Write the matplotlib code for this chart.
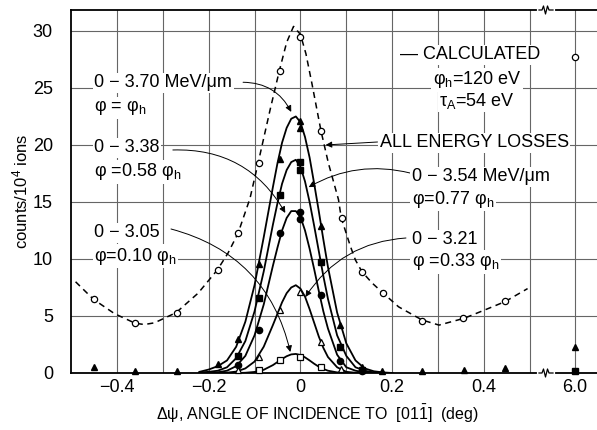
import matplotlib.pyplot as plt
from matplotlib.lines import Line2D

plt.rcParams['font.family'] = ['Liberation Sans', 'DejaVu Sans']
plt.rcParams['mathtext.fontset'] = 'custom'
plt.rcParams['mathtext.rm'] = 'Liberation Sans'
plt.rcParams['mathtext.it'] = 'Liberation Sans:italic'

# ----------------------------
# DATA
# ----------------------------
# all energy losses (open circles)
all_x = [-0.45, -0.36, -0.27, -0.18, -0.135, -0.09, -0.045, 0.0, 0.045, 0.09, 0.135, 0.18, 0.265, 0.355, 0.445]
all_y = [6.5, 4.4, 5.3, 9.0, 12.3, 18.4, 26.5, 29.5, 21.2, 13.6, 8.9, 7.0, 4.6, 4.8, 6.3]
all_far = 27.7  # at 6.0 deg

# dashed hand-drawn curve through all energy losses
dash_x = [-0.49, -0.451, -0.405, -0.36, -0.34, -0.318, -0.271, -0.223, -0.181, -0.158, -0.136,
          -0.11, -0.092, -0.066, -0.046, -0.03, -0.015, 0.0, 0.012, 0.025, 0.045, 0.061, 0.083,
          0.089, 0.109, 0.12, 0.134, 0.156, 0.179, 0.214, 0.265, 0.302, 0.357, 0.40, 0.446, 0.495]
dash_y = [8.0, 6.46, 5.2, 4.36, 4.25, 4.4, 5.29, 7.0, 9.04, 10.5, 12.25,
          15.3, 18.45, 23.1, 26.5, 29.0, 30.4, 29.7, 28.0, 25.4, 21.2, 18.4, 15.2,
          13.6, 11.1, 9.9, 8.89, 7.9, 7.05, 5.8, 4.65, 4.2, 4.8, 5.5, 6.26, 7.4]

# 0-3.70 MeV/um (filled triangles)
tri_x = [-0.45, -0.36, -0.27, -0.18, -0.135, -0.09, -0.045, 0.0, 0.0, 0.045, 0.087, 0.134, 0.178, 0.265, 0.357, 0.446]
tri_y = [0.5, 0.2, 0.2, 0.8, 3.0, 9.6, 18.8, 22.1, 21.5, 12.9, 4.2, 0.55, 0.2, 0.2, 0.3, 0.4]
tri_far = 2.3
# 0-3.54 (filled squares)
sq_x = [-0.135, -0.09, -0.045, 0.0, 0.0, 0.045, 0.087, 0.134]
sq_y = [1.5, 6.55, 15.6, 18.5, 17.8, 9.7, 2.25, 0.25]
sq_far = 0.2
# 0-3.38 (filled circles)
circ_x = [-0.135, -0.09, -0.045, 0.0, 0.0, 0.045, 0.087, 0.134]
circ_y = [0.7, 3.8, 12.3, 14.1, 13.5, 6.8, 1.05, 0.15]
# 0-3.21 (open triangles)
otri_x = [-0.135, -0.09, -0.045, 0.0, 0.045, 0.089]
otri_y = [0.25, 1.4, 5.5, 7.1, 2.75, 0.35]
# 0-3.05 (open squares)
osq_x = [-0.09, -0.045, 0.0, 0.045]
osq_y = [0.25, 1.1, 1.4, 0.5]

# calculated curves
calc_x = [-0.22, -0.20, -0.18, -0.16, -0.14, -0.12, -0.10, -0.08, -0.06, -0.05, -0.04, -0.03, -0.02, -0.01,
          0.00, 0.01, 0.02, 0.03, 0.04, 0.05, 0.06, 0.08, 0.10, 0.12, 0.14, 0.16, 0.18, 0.20]
calc_370 = [0.1, 0.3, 0.6, 1.1, 2.3, 4.5, 7.7, 11.9, 16.3, 18.4, 20.2, 21.5, 22.3, 22.5,
            22.0, 20.7, 18.9, 16.6, 14.2, 11.7, 9.3, 5.3, 2.6, 1.1, 0.4, 0.15, 0.05, 0.0]
calc_354 = [0.05, 0.1, 0.2, 0.5, 1.3, 2.8, 5.4, 8.9, 13.0, 14.9, 16.6, 17.8, 18.5, 18.7,
            18.1, 16.8, 15.0, 12.9, 10.7, 8.5, 6.5, 3.3, 1.5, 0.5, 0.2, 0.05, 0.0, 0.0]
calc_338 = [0.0, 0.02, 0.06, 0.2, 0.6, 1.5, 3.3, 6.0, 9.4, 11.0, 12.5, 13.6, 14.2, 14.2,
            13.7, 12.5, 10.9, 9.1, 7.2, 5.4, 3.9, 1.6, 0.5, 0.2, 0.05, 0.0, 0.0, 0.0]
calc_321 = [0.0, 0.0, 0.02, 0.03, 0.12, 0.4, 1.0, 2.3, 4.2, 5.2, 6.2, 7.0, 7.5, 7.7,
            7.4, 6.7, 5.6, 4.4, 3.2, 2.2, 1.4, 0.5, 0.1, 0.02, 0.0, 0.0, 0.0, 0.0]
calc_305 = [0.0, 0.0, 0.0, 0.0, 0.0, 0.02, 0.09, 0.28, 0.69, 0.96, 1.23, 1.47, 1.63, 1.67,
            1.57, 1.37, 1.10, 0.81, 0.55, 0.35, 0.20, 0.05, 0.01, 0.0, 0.0, 0.0, 0.0, 0.0]

# ----------------------------
# PLOT
# ----------------------------
fig = plt.figure(figsize=(5.97, 4.30), dpi=100)
ax = fig.add_axes([0.1189, 0.1326, 0.7940, 0.8442])
ax2 = fig.add_axes([0.9129, 0.1326, 0.0871, 0.8442])

for a in (ax, ax2):
    a.set_ylim(0, 31.84)
    a.set_yticks(range(0, 31, 5))
    a.grid(True, which='both', color='0.4', lw=0.8)
    a.set_axisbelow(True)
    a.tick_params(which='both', length=0, labelsize=13)
    for s in a.spines.values():
        s.set_linewidth(1.3)

ax.set_xlim(-0.5, 0.533)
ax.set_xticks([-0.4, -0.2, 0, 0.2, 0.4])
ax.set_xticklabels(['\u22120.4', '\u22120.2', '0', '0.2', '0.4'])
ax.set_xticks([-0.3, -0.1, 0.1, 0.3, 0.5], minor=True)
ax.tick_params(axis='y', pad=13)
ax.tick_params(axis='x', pad=4)
ax.spines['right'].set_visible(False)

ax2.set_xlim(5.934, 6.048)
ax2.set_xticks([6.0])
ax2.set_xticklabels(['6.0'])
ax2.tick_params(axis='x', pad=4)
ax2.tick_params(axis='y', labelleft=False)
ax2.spines['left'].set_visible(False)
ax2.spines['right'].set_visible(False)

ax.set_zorder(2)
ax.patch.set_visible(False)

# curves
ax.plot(dash_x, dash_y, color='black', lw=1.1, ls=(0, (4, 3)), zorder=3)
for cy in (calc_370, calc_354, calc_338, calc_321, calc_305):
    ax.plot(calc_x, cy, color='black', lw=1.3, zorder=3)

mk = dict(ls='none', color='black', ms=4.5, zorder=5, clip_on=False)
ax.plot(all_x, all_y, 'o', mfc='white', mew=0.9, **mk)
ax.plot(tri_x, tri_y, '^', **mk)
ax.plot(sq_x, sq_y, 's', **mk)
ax.plot(circ_x, circ_y, 'o', **mk)
ax.plot(otri_x, otri_y, '^', mfc='white', mew=0.9, **mk)
ax.plot(osq_x, osq_y, 's', mfc='white', mew=0.9, **mk)

ax2.plot([6.0], [all_far], 'o', mfc='white', mew=0.9, **mk)
ax2.plot([6.0], [tri_far], '^', **mk)
ax2.plot([6.0], [sq_far], 's', **mk)

# axis labels
ax.set_xlabel('\u0394\u03c8, ANGLE OF INCIDENCE TO  [01$\\bar{1}$]  (deg)', fontsize=11.5)
ax.xaxis.set_label_coords(0.52, -0.083)
ax.set_ylabel('counts/10$^4$ ions', fontsize=12)
ax.yaxis.set_label_coords(-0.085, 0.5)

# annotations
box = dict(fc='white', ec='none', pad=1)
tkw = dict(fontsize=13, va='center', bbox=box, zorder=6, clip_on=False)
ax.text(-0.449, 25.44, '0 \u2212 3.70 MeV/\u03bcm', **tkw)
ax.text(-0.449, 23.25, '\u03c6 = \u03c6$_\\mathrm{h}$', **tkw)
ax.text(-0.449, 19.74, '0 \u2212 3.38', **tkw)
ax.text(-0.449, 17.63, '\u03c6 =0.58 \u03c6$_\\mathrm{h}$', **tkw)
ax.text(-0.449, 12.28, '0 \u2212 3.05', **tkw)
ax.text(-0.449, 10.26, '\u03c6=0.10 \u03c6$_\\mathrm{h}$', **tkw)

ax.text(0.217, 27.9, '\u2014 CALCULATED', **tkw)
ax.text(0.385, 25.7, '\u03c6$_\\mathrm{h}$=120 eV', ha='center', **tkw)
ax.text(0.385, 23.86, '\u03c4$_\\mathrm{A}$=54 eV', ha='center', **tkw)
ax.text(0.173, 20.2, 'ALL ENERGY LOSSES', **tkw)
ax.text(0.243, 17.2, '0 \u2212 3.54 MeV/\u03bcm', **tkw)
ax.text(0.243, 15.26, '\u03c6=0.77 \u03c6$_\\mathrm{h}$', **tkw)
ax.text(0.243, 11.67, '0 \u2212 3.21', **tkw)
ax.text(0.243, 9.74, '\u03c6 =0.33 \u03c6$_\\mathrm{h}$', **tkw)


def arrow(x0, y0, x1, y1, rad):
    ax.annotate('', xy=(x1, y1), xytext=(x0, y0), zorder=4,
                arrowprops=dict(arrowstyle='-|>', lw=0.7, color='black',
                                mutation_scale=9, shrinkA=0, shrinkB=0,
                                connectionstyle=f'arc3,rad={rad}'))


arrow(-0.125, 25.5, -0.02, 22.9, -0.3)
arrow(-0.278, 19.56, -0.033, 14.04, -0.3)
arrow(-0.282, 12.63, -0.022, 1.84, -0.3)
arrow(0.168, 20.26, 0.055, 20.0, 0.0)
arrow(0.239, 17.54, 0.018, 16.3, 0.2)
arrow(0.230, 11.84, 0.011, 6.67, 0.25)

# axis break marks (figure pixels -> fraction)
W, H = 597.0, 430.0
for ypx in (10, 373):
    yb = 1 - ypx / H
    fig.add_artist(Line2D([539 / W, 553 / W], [yb, yb], color='white', lw=3, zorder=10))
    zx = [539, 542, 543.5, 545.5, 547.5, 549, 553]
    zy = [0, 0, 4, -4, 4, 0, 0]
    fig.add_artist(Line2D([v / W for v in zx], [yb + d / H for d in zy],
                          color='black', lw=0.9, zorder=11))

fig.savefig('out.png', dpi=100)
